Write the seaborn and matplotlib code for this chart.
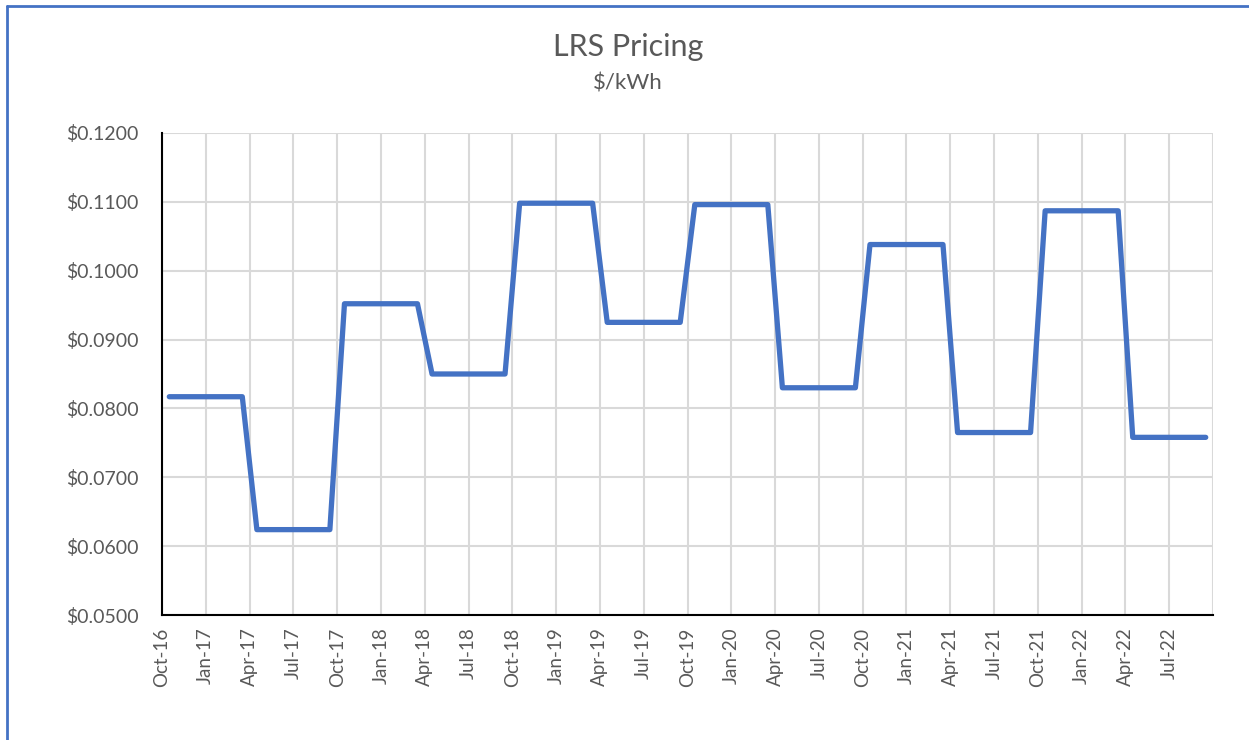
import matplotlib
matplotlib.use("Agg")
import matplotlib.pyplot as plt
import matplotlib.ticker as mticker
from matplotlib.lines import Line2D
import numpy as np
import pandas as pd
import seaborn as sns

# monthly LRS price, Oct-16 .. Sep-22 ($/kWh)
months = pd.date_range("2016-10-01", "2022-09-01", freq="MS")
prices = [
    0.0817, 0.0817, 0.0817, 0.0817, 0.0817, 0.0817,  # Oct-16 - Mar-17
    0.0624, 0.0624, 0.0624, 0.0624, 0.0624, 0.0624,  # Apr-17 - Sep-17
    0.0952, 0.0952, 0.0952, 0.0952, 0.0952, 0.0952,  # Oct-17 - Mar-18
    0.0850, 0.0850, 0.0850, 0.0850, 0.0850, 0.0850,  # Apr-18 - Sep-18
    0.1098, 0.1098, 0.1098, 0.1098, 0.1098, 0.1098,  # Oct-18 - Mar-19
    0.0925, 0.0925, 0.0925, 0.0925, 0.0925, 0.0925,  # Apr-19 - Sep-19
    0.1096, 0.1096, 0.1096, 0.1096, 0.1096, 0.1096,  # Oct-19 - Mar-20
    0.0830, 0.0830, 0.0830, 0.0830, 0.0830, 0.0830,  # Apr-20 - Sep-20
    0.1038, 0.1038, 0.1038, 0.1038, 0.1038, 0.1038,  # Oct-20 - Mar-21
    0.0765, 0.0765, 0.0765, 0.0765, 0.0765, 0.0765,  # Apr-21 - Sep-21
    0.1087, 0.1087, 0.1087, 0.1087, 0.1087, 0.1087,  # Oct-21 - Mar-22
    0.0758, 0.0758, 0.0758, 0.0758, 0.0758, 0.0758,  # Apr-22 - Sep-22
]
tick_labels = [m.strftime("%b-%y") for m in months[::3]]

df = pd.DataFrame({"idx": np.arange(len(months)), "price": prices})

sns.set_style("white")
plt.rcParams["font.family"] = ["Lato", "DejaVu Sans"]
grey = "#595959"

fig = plt.figure(figsize=(12.49, 7.4), dpi=100)
ax = fig.add_axes([0.1297, 0.1689, 0.8415, 0.6514])

sns.lineplot(data=df, x="idx", y="price", ax=ax, color="#4472C4",
             linewidth=3.8, solid_capstyle="round", solid_joinstyle="round")

# category axis, points between tick marks
ax.set_xlim(-0.5, len(months) - 0.5)
xt = np.arange(-0.5, len(months), 3)
ax.set_xticks(xt)
ax.set_xticklabels(tick_labels + [""] * (len(xt) - len(tick_labels)),
                   rotation=90, fontsize=13.5, color=grey)
ax.set_ylim(0.05, 0.12)
ax.set_yticks(np.arange(0.05, 0.1201, 0.01))
ax.yaxis.set_major_formatter(mticker.FuncFormatter(lambda v, p: f"${v:.4f}"))
ax.tick_params(axis="y", labelsize=14, labelcolor=grey, length=0, pad=17)
ax.tick_params(axis="x", length=5, width=1.2, color="black", pad=4, direction="out")
ax.set_xlabel("")
ax.set_ylabel("")

ax.grid(True, color="#D9D9D9", linewidth=1.5)
ax.set_axisbelow(True)
for s in ["top", "right"]:
    ax.spines[s].set_visible(False)
for s in ["left", "bottom"]:
    ax.spines[s].set_color("black")
    ax.spines[s].set_linewidth(1.5)

fig.text(0.503, 0.924, "LRS Pricing", ha="center", va="baseline", fontsize=22, color=grey)
fig.text(0.503, 0.879, "$/kWh", ha="center", va="baseline", fontsize=16, color=grey)

# outer chart border (top + left visible)
fig.add_artist(Line2D([0.0056, 1.0], [0.9915, 0.9915], transform=fig.transFigure,
                      color="#4472C4", linewidth=2))
fig.add_artist(Line2D([0.0056, 0.0056], [0.0, 0.9915], transform=fig.transFigure,
                      color="#4472C4", linewidth=2))

fig.savefig("out.png", dpi=100, facecolor="white")
